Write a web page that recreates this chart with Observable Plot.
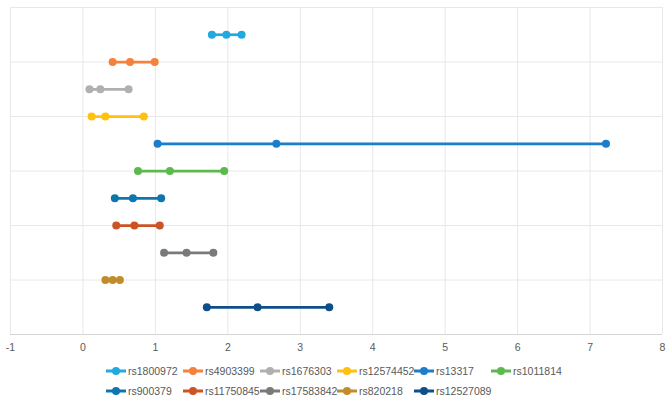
<!DOCTYPE html>
<html>
<head>
<meta charset="utf-8">
<script src="https://cdn.jsdelivr.net/npm/d3@7"></script>
<script src="https://cdn.jsdelivr.net/npm/@observablehq/plot@0.6"></script>
<style>
  html, body { margin: 0; padding: 0; background: #fff; }
  #chart { width: 671px; height: 402px; position: relative; font-family: "Liberation Sans", Arial, sans-serif; }
  #legend { position: absolute; left: 105px; top: 363px; display: grid; grid-template-columns: repeat(6, 77px); row-gap: 4px; }
  .item { display: flex; align-items: center; height: 16px; font-size: 10.5px; color: #595959; white-space: nowrap; }
  .item svg { margin-right: 1px; flex: none; }
</style>
</head>
<body>
<div id="chart"></div>
<script>
const names = ["rs1800972","rs4903399","rs1676303","rs12574452","rs13317","rs1011814","rs900379","rs11750845","rs17583842","rs820218","rs12527089"];
const lows  = [1.78, 0.41, 0.09, 0.12, 1.03, 0.76, 0.44, 0.46, 1.12, 0.31, 1.71];
const mids  = [1.98, 0.65, 0.24, 0.31, 2.67, 1.20, 0.69, 0.71, 1.43, 0.41, 2.41];
const highs = [2.19, 0.99, 0.63, 0.84, 7.22, 1.95, 1.08, 1.06, 1.80, 0.51, 3.40];
const rowPos = [11, 10, 9, 8, 7, 6, 5, 4, 3, 2, 1];
const colors = ["#21A9E1","#F5813C","#B0B0B0","#FFC010","#1C7DC9","#5DB94E","#0E76AF","#CC5424","#7A7A7A","#C18D2B","#0E4F8A"];
const xTicks = [-1, 0, 1, 2, 3, 4, 5, 6, 7, 8];
const yGrid = [2, 4, 6, 8, 10, 12];

const rows = names.map((n, i) => ({name: n, y: rowPos[i], low: lows[i], mid: mids[i], high: highs[i]}));
const pts = rows.flatMap(r => [r.low, r.mid, r.high].map(v => ({name: r.name, y: r.y, x: v})));

const plot = Plot.plot({
  width: 671,
  height: 360,
  marginTop: 7,
  marginBottom: 26,
  marginLeft: 10,
  marginRight: 9,
  style: {fontFamily: "Liberation Sans, Arial, sans-serif", fontSize: "10.5px", color: "#595959", background: "#fff"},
  x: {domain: [-1, 8], ticks: xTicks, tickSize: 0, tickPadding: 9, label: null, tickFormat: d => String(d)},
  y: {domain: [0, 12], axis: null},
  color: {domain: names, range: colors},
  marks: [
    Plot.ruleX(xTicks, {stroke: "#e8e8e8", strokeWidth: 1}),
    Plot.ruleY(yGrid, {stroke: "#e8e8e8", strokeWidth: 1}),
    Plot.ruleY([0], {stroke: "#d4d4d4", strokeWidth: 1}),
    Plot.ruleY(rows, {y: "y", x1: "low", x2: "high", stroke: "name", strokeWidth: 2.75}),
    Plot.dot(pts, {x: "x", y: "y", fill: "name", r: 4, stroke: null}),
    Plot.axisX({ticks: xTicks, tickSize: 0, tickPadding: 9, label: null, tickFormat: d => String(d), fill: "#595959"})
  ]
});
const chart = document.getElementById("chart");
chart.appendChild(plot);

const legend = document.createElement("div");
legend.id = "legend";
names.forEach((n, i) => {
  const item = document.createElement("div");
  item.className = "item";
  if (i === 6) item.style.gridColumnStart = 1;
  item.innerHTML = `<svg width="22" height="10"><line x1="1" x2="21" y1="5" y2="5" stroke="${colors[i]}" stroke-width="3"/><circle cx="11" cy="5" r="4" fill="${colors[i]}"/></svg><span>${n}</span>`;
  legend.appendChild(item);
});
chart.appendChild(legend);
</script>
</body>
</html>
